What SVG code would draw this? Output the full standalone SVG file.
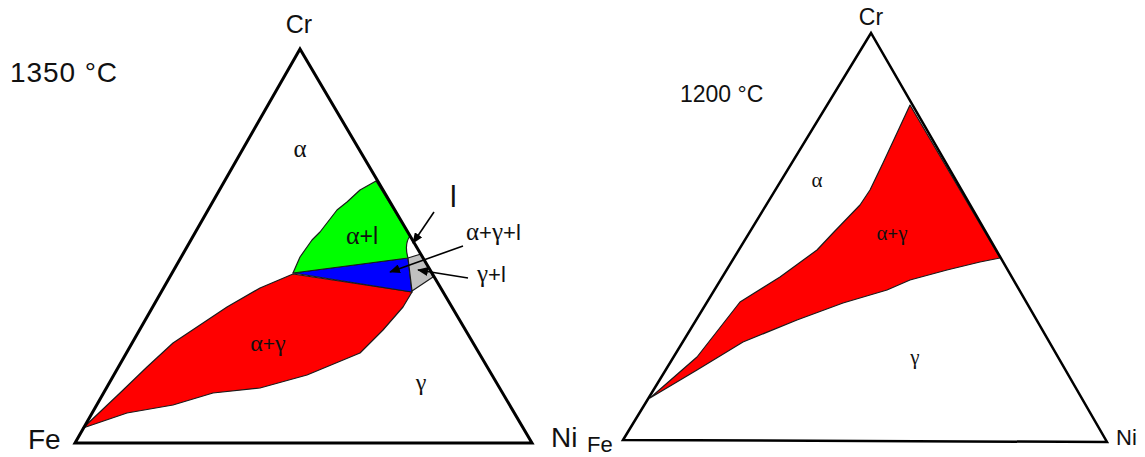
<svg xmlns="http://www.w3.org/2000/svg" width="1145" height="457" viewBox="0 0 1145 457">
<style>
.tri{fill:none;stroke:#000;stroke-linejoin:miter}
.reg{stroke:#1a1a1a;stroke-width:1.2;stroke-linejoin:round}
.t{font-family:"Liberation Sans",Arial,sans-serif;fill:#111}
.g{font-family:"Liberation Serif","Times New Roman",serif}
.arr{stroke:#000;stroke-width:1.6;fill:none;marker-end:url(#ah)}
</style>
<defs>
<marker id="ah" viewBox="0 0 12 10" refX="11" refY="5" markerWidth="11" markerHeight="9" markerUnits="userSpaceOnUse" orient="auto">
<path d="M0,0 L12,5 L0,10 z" fill="#000"/>
</marker>
</defs>
<rect width="1145" height="457" fill="#fff"/>

<g id="left-diagram">
<g id="L-red"><polygon class="reg" fill="#ff0000" points="293,274 260,288 227,307 200,325 173,343 147,367 120,393 83,428 127,413 173,405 213,393 260,388 307,375 360,353 383,330 403,307 412,292"/></g>
<g id="L-blue"><polygon class="reg" fill="#0000ff" points="293,273 408,258 412,292"/></g>
<g id="L-gray"><polygon class="reg" fill="#c0c0c0" points="408,258 421,254 433,277 412,291"/></g>
<g id="L-green"><path class="reg" fill="#00ff00" d="M293,273 L300,257 L312,240 L320,232 L337,210 L347,202 L360,190 L376,181 L410,236 Q404,244 408,258 Z"/></g>
<g id="L-triangle"><polygon class="tri" stroke-width="3" points="75,443 300,49 532,443"/></g>
<g id="L-labels">
<text class="t" x="10" y="82" font-size="28" textLength="107">1350 °C</text>
<text class="t" x="299" y="33" font-size="25" text-anchor="middle">Cr</text>
<text class="t" x="28" y="449" font-size="28">Fe</text>
<text class="t" x="551" y="447" font-size="28">Ni</text>
<text class="t g" x="300" y="157" font-size="25" text-anchor="middle">α</text>
<text class="t" x="362" y="244" font-size="23" text-anchor="middle"><tspan class="g" font-size="26">α</tspan>+l</text>
<text class="t" x="268" y="351" font-size="21" text-anchor="middle"><tspan class="g" font-size="24">α</tspan>+<tspan class="g" font-size="24">γ</tspan></text>
<text class="t g" x="421" y="390" font-size="24" text-anchor="middle">γ</text>
<text class="t" x="450" y="207" font-size="30">l</text>
<text class="t" x="466" y="240" font-size="22"><tspan class="g" font-size="25">α</tspan>+<tspan class="g" font-size="25">γ</tspan>+l</text>
<text class="t" x="477" y="282" font-size="22"><tspan class="g" font-size="25">γ</tspan>+l</text>
</g>
</g>

<g id="connectors">
<line class="arr" x1="434" y1="212" x2="413" y2="243"/>
<line class="arr" x1="463" y1="246" x2="390" y2="272"/>
<line class="arr" x1="468" y1="278" x2="418" y2="270"/>
</g>

<g id="right-diagram">
<g id="R-red"><polygon class="reg" fill="#ff0000" points="910,105 1000,258 980,262 947,270 910,280 887,290 843,303 797,320 743,342 697,370 650,398 697,357 740,302 780,277 817,250 833,233 860,205 870,190 883,163 897,133"/></g>
<g id="R-triangle"><polygon class="tri" stroke-width="2.5" points="623,440 871,33 1107,442"/></g>
<g id="R-labels">
<text class="t" x="871" y="25" font-size="23" text-anchor="middle">Cr</text>
<text class="t" x="680" y="102" font-size="23">1200 °C</text>
<text class="t" x="587" y="452" font-size="22">Fe</text>
<text class="t" x="1116" y="445" font-size="22">Ni</text>
<text class="t g" x="817" y="187" font-size="21" text-anchor="middle">α</text>
<text class="t" x="892" y="240" font-size="18" text-anchor="middle"><tspan class="g" font-size="21">α</tspan>+<tspan class="g" font-size="21">γ</tspan></text>
<text class="t g" x="915" y="364" font-size="21" text-anchor="middle">γ</text>
</g>
</g>
</svg>
